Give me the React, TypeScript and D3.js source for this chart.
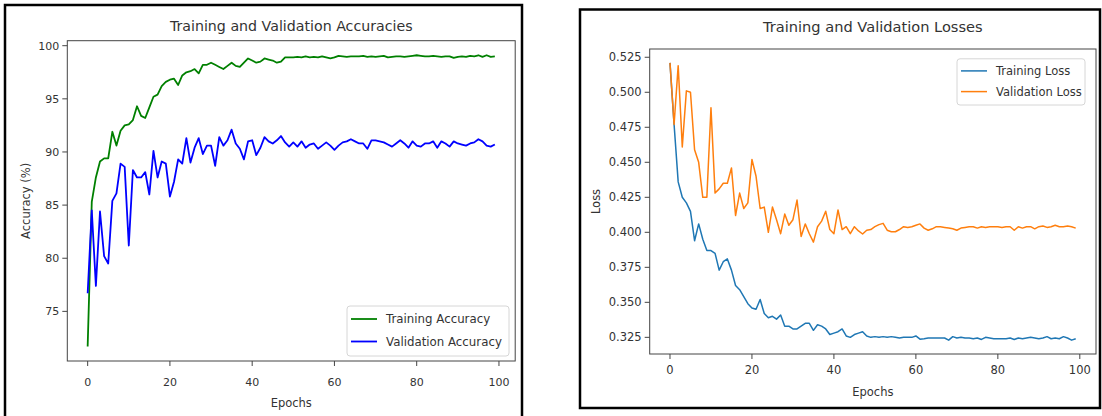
import React from 'react'
import * as d3 from 'd3'

// values, one per epoch
const trainAcc = [
  71.7, 85.3, 87.6, 89.1, 89.4, 89.4, 91.9, 90.6, 92.0, 92.5,
  92.6, 93.0, 94.3, 93.4, 93.2, 94.2, 95.2, 95.4, 96.2, 96.6,
  96.8, 96.9, 96.3, 97.2, 97.5, 97.6, 97.8, 97.4, 98.2, 98.2,
  98.4, 98.2, 98.0, 97.8, 98.1, 98.4, 98.1, 98.0, 98.4, 98.8,
  98.6, 98.4, 98.5, 98.8, 98.7, 98.6, 98.4, 98.5, 98.9, 98.9,
  98.9, 98.95, 98.9, 99.0, 98.9, 98.95, 98.9, 99.0, 98.9, 98.8,
  98.9, 99.05, 99.0, 98.95, 99.0, 99.0, 99.0, 99.05, 98.95, 99.0,
  98.95, 99.0, 99.05, 98.9, 98.95, 99.0, 99.0, 98.95, 99.0, 99.05,
  99.1, 99.05, 99.0, 99.0, 99.05, 99.0, 98.95, 99.0, 99.0, 98.85,
  98.95, 99.0, 98.95, 99.05, 99.0, 99.1, 98.95, 99.1, 98.95, 99.0,
]
const valAcc = [
  76.7, 84.5, 77.4, 84.4, 80.2, 79.5, 85.4, 86.1, 88.9, 88.6,
  81.2, 88.3, 87.6, 87.6, 88.1, 86.0, 90.1, 87.6, 89.1, 88.9,
  85.8, 87.2, 89.3, 88.9, 91.3, 89.0, 90.4, 91.3, 89.8, 90.6,
  90.6, 88.7, 91.4, 90.6, 91.1, 92.1, 90.8, 90.3, 89.3, 91.0,
  91.1, 89.7, 90.4, 91.4, 91.0, 90.8, 91.1, 91.5, 90.9, 90.5,
  90.9, 90.5, 91.0, 90.4, 90.7, 90.8, 90.3, 90.6, 90.9, 90.6,
  90.2, 90.6, 90.9, 91.0, 91.2, 91.0, 90.8, 90.8, 90.3, 91.1,
  91.1, 91.0, 90.9, 90.7, 90.5, 90.8, 91.1, 90.8, 90.4, 91.0,
  90.6, 90.5, 90.8, 90.8, 91.0, 90.4, 91.0, 90.8, 90.5, 91.0,
  90.8, 90.7, 90.6, 90.8, 90.9, 91.2, 91.0, 90.6, 90.5, 90.7,
]
const trainLoss = [
  0.521, 0.477, 0.436, 0.425, 0.421, 0.415, 0.394, 0.406, 0.395, 0.387,
  0.387, 0.385, 0.373, 0.379, 0.381, 0.373, 0.362, 0.359, 0.354, 0.349,
  0.346, 0.345, 0.352, 0.342, 0.339, 0.340, 0.338, 0.341, 0.333, 0.333,
  0.331, 0.331, 0.333, 0.335, 0.335, 0.330, 0.334, 0.333, 0.331, 0.327,
  0.328, 0.329, 0.331, 0.326, 0.325, 0.327, 0.328, 0.329, 0.326, 0.325,
  0.3255, 0.325, 0.3255, 0.325, 0.3255, 0.325, 0.3245, 0.325, 0.325, 0.325,
  0.326, 0.3237, 0.324, 0.3245, 0.3245, 0.3245, 0.3245, 0.3245, 0.323, 0.3255,
  0.3245, 0.325, 0.3245, 0.3245, 0.324, 0.3245, 0.3235, 0.325, 0.3245, 0.324,
  0.324, 0.324, 0.324, 0.3245, 0.3235, 0.3245, 0.324, 0.3245, 0.325, 0.3245,
  0.324, 0.3245, 0.3255, 0.324, 0.3245, 0.324, 0.3255, 0.3245, 0.323, 0.324,
]
const valLoss = [
  0.521, 0.477, 0.519, 0.461, 0.501, 0.500, 0.459, 0.450, 0.425, 0.425,
  0.489, 0.428, 0.431, 0.435, 0.435, 0.446, 0.412, 0.428, 0.417, 0.421,
  0.452, 0.440, 0.417, 0.418, 0.400, 0.418, 0.409, 0.399, 0.413, 0.405,
  0.409, 0.423, 0.397, 0.406, 0.399, 0.393, 0.404, 0.408, 0.415, 0.402,
  0.399, 0.416, 0.402, 0.404, 0.399, 0.404, 0.401, 0.3988, 0.4015, 0.402,
  0.404, 0.4055, 0.4064, 0.4015, 0.4004, 0.4004, 0.402, 0.404, 0.4035, 0.404,
  0.405, 0.406, 0.403, 0.4015, 0.4025, 0.404, 0.404, 0.4035, 0.403, 0.4025,
  0.4015, 0.403, 0.4035, 0.404, 0.404, 0.403, 0.404, 0.4035, 0.404, 0.404,
  0.404, 0.4035, 0.404, 0.404, 0.4015, 0.404, 0.403, 0.404, 0.404, 0.4025,
  0.404, 0.4045, 0.4035, 0.404, 0.405, 0.404, 0.404, 0.4045, 0.404, 0.403,
]

const xTicks = [0, 20, 40, 60, 80, 100]
const accTicks = [75, 80, 85, 90, 95, 100]
const lossTicks = [0.325, 0.35, 0.375, 0.4, 0.425, 0.45, 0.475, 0.5, 0.525]

const FONT = 'DejaVu Sans, sans-serif'
const INK = '#333'

// matplotlib style 5% margins
function padded(values) {
  const [lo, hi] = d3.extent(values)
  const m = (hi - lo) * 0.05
  return [lo - m, hi + m]
}

function Panel({ box, plot, title, titleY, yLabel, yLabelX, xLabelY, tickLabelY,
  series, yTicks, yFmt, legend, fs }) {
  const n = series[0].values.length
  const x = d3.scaleLinear().domain(padded([0, n - 1])).range([plot.left, plot.right])
  const y = d3.scaleLinear()
    .domain(padded(series.flatMap(s => s.values)))
    .range([plot.bottom, plot.top])
  const line = d3.line().x((d, i) => x(i)).y(d => y(d))
  const cx = (plot.left + plot.right) / 2
  const cy = (plot.top + plot.bottom) / 2

  return (
    <g fontFamily={FONT}>
      <rect x={box.x} y={box.y} width={box.w} height={box.h}
        fill="white" stroke="black" strokeWidth={2.5} />
      <text x={cx} y={titleY} textAnchor="middle" fontSize={fs.title} fill={INK}>{title}</text>

      <g clipPath="none">
        {series.map(s => (
          <path key={s.name} d={line(s.values)} fill="none" stroke={s.color}
            strokeWidth={s.width} strokeLinejoin="round" />
        ))}
      </g>

      <rect x={plot.left} y={plot.top} width={plot.right - plot.left}
        height={plot.bottom - plot.top} fill="none" stroke="#444" strokeWidth={1} />

      {yTicks.map(t => (
        <g key={t} transform={`translate(0,${y(t)})`}>
          <line x1={plot.left - 5} x2={plot.left} stroke="#444" />
          <text x={plot.left - 8} dy="0.36em" textAnchor="end" fontSize={fs.tick} fill={INK}>{yFmt(t)}</text>
        </g>
      ))}
      {xTicks.map(t => (
        <g key={t} transform={`translate(${x(t)},0)`}>
          <line y1={plot.bottom} y2={plot.bottom + 5} stroke="#444" />
          <text y={tickLabelY} textAnchor="middle" fontSize={fs.tick} fill={INK}>{t}</text>
        </g>
      ))}

      <text x={cx} y={xLabelY} textAnchor="middle" fontSize={fs.label} fill={INK}>Epochs</text>
      <text transform={`translate(${yLabelX},${cy}) rotate(-90)`} dy="0.36em"
        textAnchor="middle" fontSize={fs.label} fill={INK}>{yLabel}</text>

      <rect x={legend.x} y={legend.y} width={legend.w} height={legend.h} rx={3}
        fill="white" fillOpacity={0.8} stroke="#d6d6d6" />
      {series.map((s, i) => (
        <g key={s.name} transform={`translate(0,${legend.first + i * legend.step})`}>
          <line x1={legend.x + 4} x2={legend.x + 30} stroke={s.color} strokeWidth={s.width} />
          <text x={legend.x + 39} dy="0.36em" fontSize={fs.legend} fill={INK}>{s.name}</text>
        </g>
      ))}
    </g>
  )
}

export default function App() {
  return (
    <svg width={1102} height={416} style={{ position: 'absolute', left: 0, top: 0 }}>
      <rect width={1102} height={416} fill="white" />
      <Panel
        box={{ x: 5, y: 5, w: 517, h: 420 }}
        plot={{ left: 67.3, right: 515.2, top: 40.7, bottom: 361 }}
        title="Training and Validation Accuracies" titleY={31}
        yLabel="Accuracy (%)" yLabelX={26} xLabelY={407} tickLabelY={386}
        series={[
          { name: 'Training Accuracy', values: trainAcc, color: 'green', width: 1.8 },
          { name: 'Validation Accuracy', values: valAcc, color: 'blue', width: 1.8 },
        ]}
        yTicks={accTicks} yFmt={d => String(d)}
        legend={{ x: 347, y: 306, w: 162, h: 50, first: 319, step: 22.5 }}
        fs={{ title: 14.2, tick: 11, label: 11.5, legend: 11.8 }}
      />
      <Panel
        box={{ x: 580, y: 9.5, w: 520, h: 398.5 }}
        plot={{ left: 649.7, right: 1096, top: 49, bottom: 354 }}
        title="Training and Validation Losses" titleY={32}
        yLabel="Loss" yLabelX={596} xLabelY={396} tickLabelY={374}
        series={[
          { name: 'Training Loss', values: trainLoss, color: '#1f77b4', width: 1.5 },
          { name: 'Validation Loss', values: valLoss, color: '#ff7f0e', width: 1.5 },
        ]}
        yTicks={lossTicks} yFmt={d3.format('.3f')}
        legend={{ x: 957, y: 58.8, w: 128, h: 46.2, first: 70.9, step: 20.7 }}
        fs={{ title: 14.6, tick: 11.5, label: 11.5, legend: 11.5 }}
      />
    </svg>
  )
}
